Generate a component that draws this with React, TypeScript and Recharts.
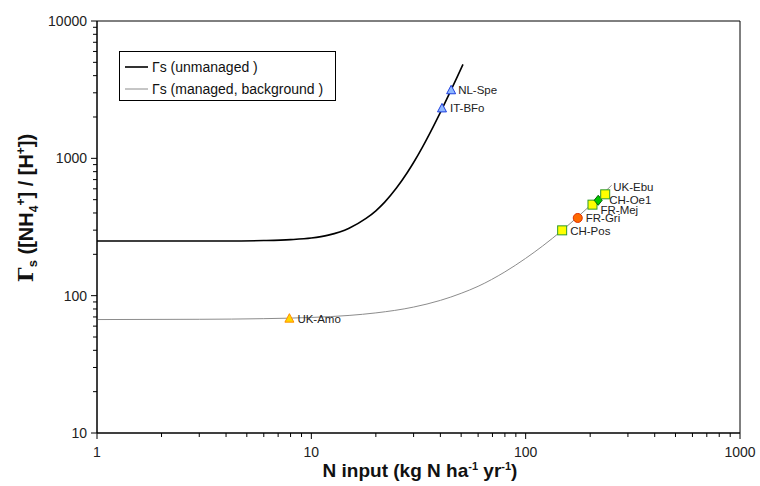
import { ComposedChart, Line, Scatter, XAxis, YAxis, ReferenceArea } from "recharts";

// N input (kg N ha-1 yr-1) and Gamma_s along each curve
const unmanagedN = [1, 2, 4, 6, 8, 10, 12, 15, 18, 20, 22, 25, 28, 30, 33, 36, 40, 44, 48, 51];
const unmanagedGamma = [250, 250, 250, 252, 256, 263, 276, 310, 365, 415, 480, 610, 785, 932, 1207, 1559, 2163, 2945, 3936, 4836];

const managedN = [1, 3, 6, 10, 15, 20, 30, 40, 50, 60, 80, 100, 120, 148, 175, 200, 220, 252];
const managedGamma = [67, 67.3, 68, 69.4, 71.8, 74.9, 82.6, 92.4, 104, 117, 149, 187, 230, 299, 375, 453, 520, 637];

// measurement sites
const siteNames = ["NL-Spe", "IT-BFo", "UK-Amo", "CH-Pos", "FR-Gri", "FR-Mej", "CH-Oe1", "UK-Ebu"];
const siteN = [44.9, 40.7, 7.9, 148, 175, 205, 218, 235];
const siteGamma = [3130, 2310, 68, 299, 368, 460, 495, 547];
const siteMarker = ["triBlue", "triBlue", "triYellow", "square", "circle", "square", "diamond", "square"];

const xTicks = [1, 2, 3, 4, 5, 6, 7, 8, 9, 10, 20, 30, 40, 50, 60, 70, 80, 90, 100, 200, 300, 400, 500, 600, 700, 800, 900, 1000];
const yTicks = [10, 20, 30, 40, 50, 60, 70, 80, 90, 100, 200, 300, 400, 500, 600, 700, 800, 900, 1000, 2000, 3000, 4000, 5000, 6000, 7000, 8000, 9000, 10000];
const xMajor = [1, 10, 100, 1000];
const yMajor = [10, 100, 1000, 10000];

const legendLabels = ["Γs (unmanaged )", "Γs (managed, background )"];

const unmanaged = unmanagedN.map((n, i) => ({ n, g: unmanagedGamma[i] }));
const managed = managedN.map((n, i) => ({ n, g: managedGamma[i] }));
const sites = siteNames.map((name, i) => ({ name, n: siteN[i], g: siteGamma[i], marker: siteMarker[i] }));

const labelOffset: Record<string, [number, number]> = {
  "NL-Spe": [7, 0],
  "IT-BFo": [8, 0],
  "UK-Amo": [8, 0],
  "CH-Pos": [8, 1],
  "FR-Gri": [8, 0],
  "FR-Mej": [8, 5],
  "CH-Oe1": [11, 0],
  "UK-Ebu": [8, -7],
};

const FONT = "Arial, 'Liberation Sans', sans-serif";

function XTick(props: any) {
  const { x, y, payload } = props;
  const major = xMajor.includes(payload.value);
  return (
    <g>
      <line x1={x} x2={x} y1={y} y2={y + (major ? 6 : 4)} stroke="#000" />
      {major && (
        <text x={x} y={y + 24} textAnchor="middle" fontSize={14} fontFamily={FONT} fill="#222">
          {payload.value}
        </text>
      )}
    </g>
  );
}

function YTick(props: any) {
  const { x, y, payload } = props;
  const major = yMajor.includes(payload.value);
  return (
    <g>
      <line x1={x - (major ? 6 : 4)} x2={x} y1={y} y2={y} stroke="#000" />
      {major && (
        <text x={x - 10} y={y + 5} textAnchor="end" fontSize={14} fontFamily={FONT} fill="#222">
          {payload.value}
        </text>
      )}
    </g>
  );
}

function SiteMarker(props: any) {
  const { cx, cy, payload } = props;
  if (cx == null || cy == null) return null;
  const [dx, dy] = labelOffset[payload.name] || [8, 0];
  let mark = null;
  if (payload.marker === "triBlue" || payload.marker === "triYellow") {
    const fill = payload.marker === "triBlue" ? "#8fb8ff" : "#ffd700";
    const stroke = payload.marker === "triBlue" ? "#2040e0" : "#ff8c00";
    mark = <polygon points={`${cx},${cy - 5} ${cx - 4.5},${cy + 3.5} ${cx + 4.5},${cy + 3.5}`} fill={fill} stroke={stroke} strokeWidth={1} />;
  } else if (payload.marker === "square") {
    mark = <rect x={cx - 4.5} y={cy - 4.5} width={9} height={9} fill="#ffff00" stroke="#2e9a2e" strokeWidth={1} />;
  } else if (payload.marker === "circle") {
    mark = <circle cx={cx} cy={cy} r={4.5} fill="#ff6a00" stroke="#e03000" strokeWidth={1} />;
  } else if (payload.marker === "diamond") {
    mark = <polygon points={`${cx},${cy - 5} ${cx + 4},${cy} ${cx},${cy + 5} ${cx - 4},${cy}`} fill="#00c800" stroke="#006400" strokeWidth={1} />;
  }
  return (
    <g>
      {mark}
      <text x={cx + dx} y={cy + dy + 4} fontSize={11.5} fontFamily={FONT} fill="#222">
        {payload.name}
      </text>
    </g>
  );
}

export default function App() {
  return (
    <div style={{ position: "absolute", left: 0, top: 0, width: 760, height: 486, background: "#fff" }}>
      <ComposedChart width={760} height={486} margin={{ top: 21, right: 20, bottom: 0, left: 0 }}>
        <XAxis
          dataKey="n"
          type="number"
          scale="log"
          domain={[1, 1000]}
          ticks={xTicks}
          interval={0}
          tick={<XTick />}
          tickLine={false}
          tickSize={0}
          tickMargin={0}
          axisLine={{ stroke: "#000" }}
          height={53}
          allowDataOverflow
        />
        <YAxis
          dataKey="g"
          type="number"
          scale="log"
          domain={[10, 10000]}
          ticks={yTicks}
          interval={0}
          tick={<YTick />}
          tickLine={false}
          tickSize={0}
          tickMargin={0}
          axisLine={{ stroke: "#000" }}
          width={97}
          allowDataOverflow
        />
        <ReferenceArea x1={1} x2={1000} y1={10} y2={10000} fill="none" stroke="#000" strokeWidth={1} fillOpacity={0} />
        <Line data={unmanaged} dataKey="g" type="monotone" stroke="#000" strokeWidth={1.6} dot={false} isAnimationActive={false} />
        <Line data={managed} dataKey="g" type="monotone" stroke="#8c8c8c" strokeWidth={1} dot={false} isAnimationActive={false} />
        <Scatter data={sites} dataKey="g" shape={<SiteMarker />} isAnimationActive={false} />
      </ComposedChart>
      <svg width={760} height={486} style={{ position: "absolute", left: 0, top: 0, pointerEvents: "none" }}>
        <rect x={119.5} y={51.5} width={216} height={49} fill="#fff" stroke="#000" strokeWidth={1} />
        <line x1={125} x2={148} y1={67} y2={67} stroke="#000" strokeWidth={1.6} />
        <line x1={125} x2={148} y1={89} y2={89} stroke="#8c8c8c" strokeWidth={1} />
        <text x={152} y={72} fontSize={14} fontFamily={FONT} fill="#111">{legendLabels[0]}</text>
        <text x={152} y={94} fontSize={14} fontFamily={FONT} fill="#111">{legendLabels[1]}</text>
        <text x={420} y={477} textAnchor="middle" fontSize={19} fontWeight="bold" fontFamily={FONT} fill="#111">
          N input (kg N ha<tspan dy={-7} fontSize={11}>-1</tspan><tspan dy={7}> yr</tspan>
          <tspan dy={-7} fontSize={11}>-1</tspan><tspan dy={7}>)</tspan>
        </text>
        <text transform="translate(33,208) rotate(-90)" textAnchor="middle" fontSize={20} fontWeight="bold" fontFamily={FONT} fill="#111">
          <tspan fontFamily="'DejaVu Serif', serif" fontSize={21}>Γ</tspan>
          <tspan dy={4} fontSize={13}>s</tspan>
          <tspan dy={-4}> ([NH</tspan>
          <tspan dy={5} fontSize={12}>4</tspan>
          <tspan dy={-13} fontSize={12}>+</tspan>
          <tspan dy={8}>] / [H</tspan>
          <tspan dy={-8} fontSize={12}>+</tspan>
          <tspan dy={8}>])</tspan>
        </text>
      </svg>
    </div>
  );
}
